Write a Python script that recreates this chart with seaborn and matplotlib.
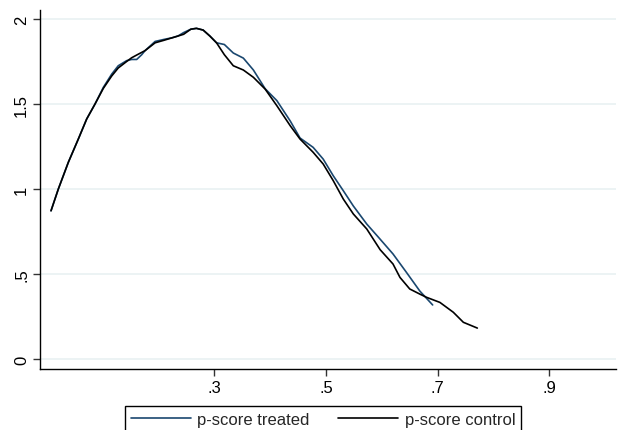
import numpy as np
import pandas as pd
import matplotlib
matplotlib.use('Agg')
import matplotlib.pyplot as plt
import seaborn as sns

# -----------------------
# density curves

treated_x = [0.0076, 0.0207, 0.0386, 0.0565, 0.0715, 0.0864, 0.1013, 0.1163, 0.128, 0.143,
             0.152, 0.161, 0.170, 0.176, 0.194, 0.210, 0.225, 0.235, 0.245, 0.258,
             0.268, 0.280, 0.292, 0.304, 0.318, 0.334, 0.352, 0.370, 0.391, 0.412,
             0.436, 0.4535, 0.477, 0.495, 0.513, 0.531, 0.549, 0.573, 0.594, 0.620,
             0.644, 0.668, 0.691]
treated_y = [0.872, 1.00, 1.157, 1.294, 1.412, 1.50, 1.598, 1.676, 1.725, 1.755,
             1.762, 1.762, 1.790, 1.814, 1.868, 1.88, 1.89, 1.90, 1.92, 1.94,
             1.945, 1.935, 1.90, 1.86, 1.85, 1.80, 1.77, 1.70, 1.59, 1.52,
             1.40, 1.30, 1.245, 1.176, 1.078, 0.99, 0.90, 0.794, 0.716, 0.618,
             0.51, 0.40, 0.318]

control_x = [0.0076, 0.0207, 0.0386, 0.0565, 0.0715, 0.0864, 0.1013, 0.1163, 0.128, 0.143,
             0.152, 0.161, 0.176, 0.194, 0.210, 0.225, 0.245, 0.258, 0.268, 0.280,
             0.292, 0.304, 0.318, 0.334, 0.352, 0.370, 0.391, 0.412, 0.436, 0.4535,
             0.477, 0.495, 0.513, 0.531, 0.549, 0.573, 0.597, 0.620, 0.6325, 0.650,
             0.668, 0.680, 0.704, 0.728, 0.746, 0.771]
control_y = [0.872, 1.00, 1.157, 1.294, 1.412, 1.50, 1.592, 1.665, 1.712, 1.750,
             1.772, 1.788, 1.814, 1.860, 1.875, 1.89, 1.91, 1.94, 1.945, 1.935,
             1.90, 1.86, 1.79, 1.725, 1.70, 1.657, 1.588, 1.49, 1.372, 1.294,
             1.216, 1.147, 1.049, 0.941, 0.853, 0.765, 0.643, 0.559, 0.48, 0.412,
             0.382, 0.363, 0.333, 0.275, 0.216, 0.182]

series_names = ['p-score treated', 'p-score control']
series_colors = ['#1a476f', '#000000']

xticks = [0.3, 0.5, 0.7, 0.9]
xticklabels = ['.3', '.5', '.7', '.9']
yticks = [0, 0.5, 1, 1.5, 2]
yticklabels = ['0', '.5', '1', '1.5', '2']

# -----------------------

df = pd.concat([
    pd.DataFrame({'x': treated_x, 'y': treated_y, 'series': series_names[0]}),
    pd.DataFrame({'x': control_x, 'y': control_y, 'series': series_names[1]}),
], ignore_index=True)

sns.set_style('white')
plt.rcParams['font.family'] = ['Liberation Sans', 'DejaVu Sans']

fig = plt.figure(figsize=(6.2, 4.31), dpi=100)
ax = fig.add_axes([0.065, 0.1415, 0.9285, 0.833])

ax = sns.lineplot(data=df, x='x', y='y', hue='series', hue_order=series_names,
                  palette=series_colors, sort=False, errorbar=None,
                  linewidth=1.2, legend=False, ax=ax)

for yt in yticks:
    ax.axhline(yt, color='#eaf2f3', lw=1.3, zorder=0)

ax.set_xlim(-0.0116, 1.0193)
ax.set_ylim(-0.0588, 2.053)
ax.set_xticks(xticks)
ax.set_xticklabels(xticklabels)
ax.set_yticks(yticks)
ax.set_yticklabels(yticklabels, rotation=90, va='center')
ax.set(xlabel='', ylabel='')

ax.tick_params(axis='both', direction='out', length=5, width=1,
               color='#333333', labelsize=12, labelcolor='black')
ax.tick_params(axis='x', pad=3, bottom=True)
ax.tick_params(axis='y', pad=3, left=True)

sns.despine(ax=ax, top=True, right=True)
for s in ['left', 'bottom']:
    ax.spines[s].set_color('#000000')
    ax.spines[s].set_linewidth(1.0)

handles = [plt.Line2D([], [], color=c, lw=1.2) for c in series_colors]
leg = fig.legend(handles, series_names, loc='upper center', ncol=2,
                 bbox_to_anchor=(0.521, 0.0557), bbox_transform=fig.transFigure,
                 frameon=True, fancybox=False, edgecolor='black', fontsize=12,
                 handlelength=3.6, handletextpad=0.4, columnspacing=1.7,
                 borderpad=0.35, borderaxespad=0, framealpha=1)
leg.get_frame().set_linewidth(1.0)

plt.savefig('out.png', dpi=100)
